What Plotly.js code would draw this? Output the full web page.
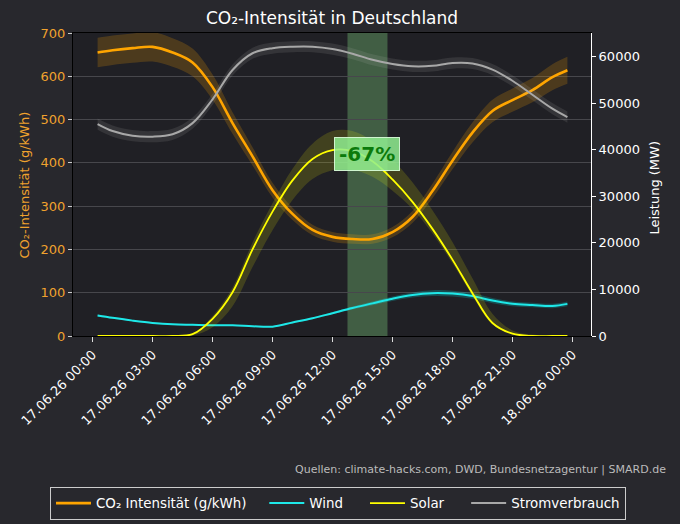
<!DOCTYPE html>
<html><head><meta charset="utf-8">
<script src="https://cdn.plot.ly/plotly-3.0.1.min.js"></script>
<style>html,body{margin:0;padding:0;background:#28282d;}#chart{width:680px;height:524px;}</style>
</head><body><div id="chart"></div>
<script>
// ---- Data ----
const times = ['2026-06-17 00:15','2026-06-17 01:00','2026-06-17 02:00','2026-06-17 03:00','2026-06-17 04:00',
  '2026-06-17 05:00','2026-06-17 06:00','2026-06-17 07:00','2026-06-17 08:00','2026-06-17 09:00',
  '2026-06-17 10:00','2026-06-17 11:00','2026-06-17 12:00','2026-06-17 13:00','2026-06-17 14:00',
  '2026-06-17 15:00','2026-06-17 16:00','2026-06-17 17:00','2026-06-17 18:00','2026-06-17 19:00',
  '2026-06-17 20:00','2026-06-17 21:00','2026-06-17 22:00','2026-06-17 23:00','2026-06-17 23:45'];

// CO2 intensity (g/kWh), left axis
const co2      = [655,660,665,668,655,632,575,492,415,337,282,245,229,224,224,240,275,335,405,470,520,545,568,598,614];
const co2Band  = [34,34,34,34,33,32,29,25,21,17,14,12,11,11,11,12,14,17,20,23,26,27,28,30,31];

// Power (MW), right axis
const wind     = [4400,3900,3300,2800,2500,2400,2300,2300,2100,2000,2900,3800,4900,6000,7000,8000,8800,9200,9100,8600,7600,6900,6650,6450,6900];
const windBand = [200,180,150,130,120,110,100,100,100,100,140,190,250,320,400,480,560,620,640,620,560,500,480,470,500];

const solar     = [0,0,0,0,0,400,3700,9400,18600,26700,33400,38000,39900,39700,37500,33600,28800,23000,16400,9200,2800,500,0,0,0];
const solarLow  = [0,0,0,0,0,300,1800,3000,3800,4000,4200,4300,4300,4000,3300,2400,1500,1000,800,600,300,100,0,0,0];
const solarHigh = [0,0,0,0,0,100,600,1000,1500,1800,2500,3300,4100,4300,4300,4300,4200,4000,3800,3200,2000,700,300,0,0];

const load      = [45500,44000,43000,42800,43300,45700,50800,57100,60700,61800,62100,62100,61600,60600,59300,58400,57900,58000,58600,58500,57200,54800,51800,48800,47000];
const loadBand  = [1200,1200,1200,1200,1200,1200,1200,1200,1200,1200,1200,1200,1200,1200,1200,1200,1200,1200,1200,1200,1200,1200,1200,1200,1200];

// Lowest-CO2 window and its label
const windowStart = '2026-06-17 12:45';
const windowEnd   = '2026-06-17 14:45';
const windowMid   = '2026-06-17 13:45';
const reductionLabel = '-67%';
const reductionLabelLevel = 420;

const seriesNames = ['CO₂ Intensität (g/kWh)', 'Wind', 'Solar', 'Stromverbrauch'];
const titleText = 'CO₂-Intensität in Deutschland';
const leftTitle = 'CO₂-Intensität (g/kWh)';
const rightTitle = 'Leistung (MW)';
const sourceText = 'Quellen: climate-hacks.com, DWD, Bundesnetzagentur | SMARD.de';

// ---- helpers ----
const add = (a, b) => a.map((v, i) => v + b[i]);
const sub = (a, b) => a.map((v, i) => Math.max(0, v - b[i]));
const PAD3 = '\u00A0\u00A0\u00A0';   // spacing between legend entries
const PAD4 = '\u00A0\u00A0\u00A0\u00A0';

function band(upper, lower, axis, fill) {
  return [
    {x: times, y: upper, yaxis: axis, type: 'scatter', mode: 'lines', line: {width: 0, shape: 'spline', smoothing: 1}, hoverinfo: 'skip', showlegend: false},
    {x: times, y: lower, yaxis: axis, type: 'scatter', mode: 'lines', line: {width: 0, shape: 'spline', smoothing: 1}, fill: 'tonexty', fillcolor: fill, hoverinfo: 'skip', showlegend: false}
  ];
}

const ORANGE = '#FFA500', CYAN = '#1EE8E8', YELLOW = '#FFFF00', GREY = '#A8A8A8';

const traces = [
  ...band(add(co2, co2Band), sub(co2, co2Band), 'y', 'rgba(255,165,0,0.2)'),
  {x: times, y: co2, yaxis: 'y', type: 'scatter', mode: 'lines', name: seriesNames[0] + PAD3, legendrank: 1,
   line: {color: ORANGE, width: 2.6, shape: 'spline', smoothing: 1}},
  ...band(add(load, loadBand), sub(load, loadBand), 'y2', 'rgba(200,200,200,0.12)'),
  {x: times, y: load, yaxis: 'y2', type: 'scatter', mode: 'lines', name: seriesNames[3], legendrank: 4,
   line: {color: GREY, width: 2, shape: 'spline', smoothing: 1}},
  ...band(add(wind, windBand), sub(wind, windBand), 'y2', 'rgba(0,255,255,0.2)'),
  {x: times, y: wind, yaxis: 'y2', type: 'scatter', mode: 'lines', name: seriesNames[1] + PAD4, legendrank: 2,
   line: {color: CYAN, width: 2, shape: 'spline', smoothing: 1}},
  ...band(add(solar, solarHigh), sub(solar, solarLow), 'y2', 'rgba(255,255,0,0.15)'),
  {x: times, y: solar, yaxis: 'y2', type: 'scatter', mode: 'lines', name: seriesNames[2] + PAD4, legendrank: 3,
   line: {color: YELLOW, width: 1.8, shape: 'spline', smoothing: 1}}
];

const layout = {
  width: 680, height: 524,
  paper_bgcolor: '#28282d', plot_bgcolor: '#202025',
  font: {family: 'DejaVu Sans', color: '#ffffff', size: 13},
  margin: {l: 73, r: 89, t: 33, b: 188, autoexpand: false},
  title: {text: titleText, font: {size: 17, color: '#ffffff'}, x: 0.5, xref: 'paper', xanchor: 'center', y: 0.966, yref: 'container', yanchor: 'middle'},
  showlegend: true,
  legend: {orientation: 'h', traceorder: 'normal', x: -0.0444, xref: 'paper', xanchor: 'left', y: -0.498, yref: 'paper', yanchor: 'top',
    itemwidth: 35,
    bgcolor: '#28282d', bordercolor: '#cccccc', borderwidth: 1, font: {size: 13.4, color: '#ffffff'}},
  xaxis: {
    type: 'date', range: ['2026-06-16 23:01:12', '2026-06-18 00:55:48'], automargin: false,
    tick0: '2026-06-17 00:00', dtick: 3 * 3600 * 1000, tickformat: '%d.%m.%y %H:%M',
    tickangle: -45, ticks: 'outside', ticklen: 5, tickcolor: '#dddddd',
    tickfont: {size: 13, color: '#ffffff'},
    showgrid: false, zeroline: false, showline: true, linecolor: '#000000', linewidth: 1, mirror: true
  },
  yaxis: {
    range: [0, 700], dtick: 100, ticks: 'outside', ticklen: 4, tickcolor: '#cccccc', automargin: false,
    tickfont: {size: 13, color: '#F0A22E'},
    showgrid: true, gridcolor: '#47474c', gridwidth: 1, zeroline: false,
    showline: true, linecolor: '#000000', linewidth: 1
  },
  yaxis2: {
    overlaying: 'y', side: 'right', range: [0, 65050], dtick: 10000, tickformat: 'd', automargin: false,
    ticks: 'outside', ticklen: 4, tickcolor: '#ffffff',
    tickfont: {size: 13, color: '#ffffff'},
    showgrid: false, zeroline: false, showline: true, linecolor: '#ffffff', linewidth: 1
  },
  shapes: [{
    type: 'rect', xref: 'x', yref: 'paper', x0: windowStart, x1: windowEnd, y0: 0, y1: 1,
    fillcolor: 'rgba(144,238,144,0.3)', line: {width: 0}, layer: 'between'
  }],
  annotations: [
    {x: windowMid, y: reductionLabelLevel, xref: 'x', yref: 'y', text: '<b>' + reductionLabel + '</b>', showarrow: false,
     font: {size: 20, color: '#0b7a0b', family: 'DejaVu Sans'}, bgcolor: 'rgba(144,238,144,0.85)',
     bordercolor: 'rgba(220,255,220,0.9)', borderwidth: 1, borderpad: 4},
    {x: -0.0927, y: 0.5, xref: 'paper', yref: 'paper', xanchor: 'center', yanchor: 'middle', textangle: -90, showarrow: false,
     text: leftTitle, font: {size: 13, color: '#F0A22E'}},
    {x: 1.1236, y: 0.49, xref: 'paper', yref: 'paper', xanchor: 'center', yanchor: 'middle', textangle: -90, showarrow: false,
     text: rightTitle, font: {size: 13, color: '#ffffff'}},
    {x: 1.149, y: -0.439, xref: 'paper', yref: 'paper', xanchor: 'right', yanchor: 'middle', showarrow: false,
     text: sourceText, font: {size: 11, color: '#bbbbbb'}}
  ]
};

Plotly.newPlot('chart', traces, layout, {displayModeBar: false, staticPlot: true});
</script></body></html>
